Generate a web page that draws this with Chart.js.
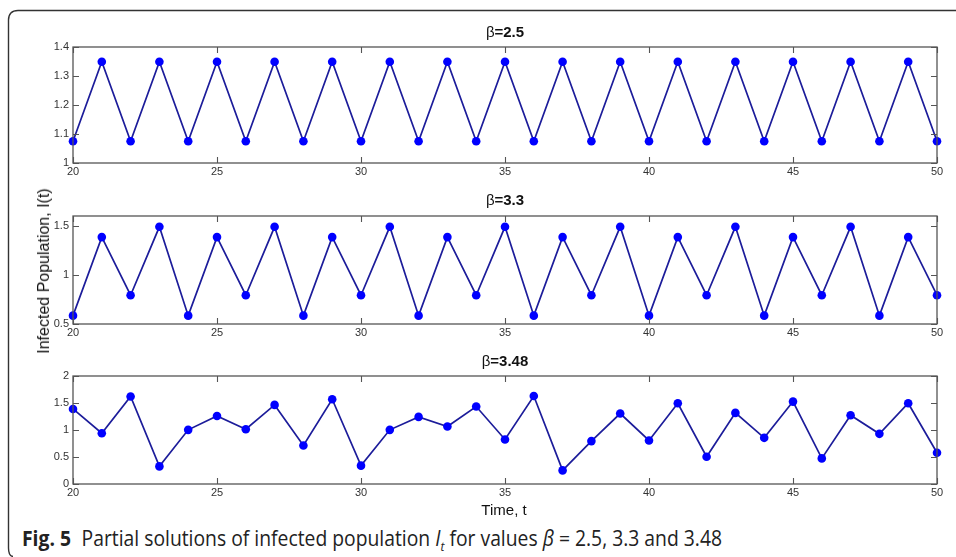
<!DOCTYPE html>
<html>
<head>
<meta charset="utf-8">
<script src="https://cdn.jsdelivr.net/npm/chart.js@4/dist/chart.umd.min.js"></script>
<style>
  html, body { margin:0; padding:0; background:#fff; }
  body { width:956px; height:557px; position:relative; overflow:hidden; font-family:Arial, "Liberation Sans", sans-serif; }
  .panel { position:absolute; left:0; width:956px; }
  canvas { display:block; }
  #ylab { position:absolute; left:44px; top:271px; transform:translate(-50%,-50%) rotate(-90deg); white-space:nowrap; font-size:16px; font-weight:normal; color:#111; }
  #xlab { position:absolute; left:504px; top:509px; transform:translate(-50%,-50%); white-space:nowrap; font-size:15px; color:#111; }
  #caption { position:absolute; left:22px; top:524px; white-space:nowrap; font-family:"Open Sans",sans-serif; font-size:21px; color:#222; transform-origin:0 0; transform:scaleX(0.92); }
  #caption b { font-weight:bold; margin-right:6px; }
  #frame { position:absolute; left:0; top:0; }
</style>
</head>
<body>
<svg id="frame" width="956" height="557"><path d="M956 10.5 H18 Q8.5 10.5 8.5 20 V548 Q8.5 556 13 556.5" fill="none" stroke="#333" stroke-width="1.4"/></svg>
<div class="panel" style="top:0"><canvas id="c1" width="956" height="190"></canvas></div>
<div class="panel" style="top:185px"><canvas id="c2" width="956" height="160"></canvas></div>
<div class="panel" style="top:350px"><canvas id="c3" width="956" height="170"></canvas></div>
<div id="ylab">Infected Population, I(t)</div>
<div id="xlab">Time, t</div>
<div id="caption"><b>Fig. 5</b> Partial solutions of infected population <i>I<sub style="font-size:13px">t</sub></i> for values <i>β</i> = 2.5, 3.3 and 3.48</div>
<script>
// ---- data ----
const timeSteps = [20,21,22,23,24,25,26,27,28,29,30,31,32,33,34,35,36,37,38,39,40,41,42,43,44,45,46,47,48,49,50];
const betaLabels = ["2.5", "3.3", "3.48"];
const infectedBeta25 = [1.075,1.349,1.075,1.349,1.075,1.349,1.075,1.349,1.075,1.349,1.075,1.349,1.075,1.349,1.075,1.349,1.075,1.349,1.075,1.349,1.075,1.349,1.075,1.349,1.075,1.349,1.075,1.349,1.075,1.349,1.075];
const infectedBeta33 = [0.585,1.385,0.793,1.49,0.585,1.385,0.793,1.49,0.585,1.385,0.793,1.49,0.585,1.385,0.793,1.49,0.585,1.385,0.793,1.49,0.585,1.385,0.793,1.49,0.585,1.385,0.793,1.49,0.585,1.385,0.793];
const infectedBeta348 = [1.39,0.94,1.62,0.326,1.003,1.26,1.015,1.465,0.714,1.57,0.34,1.003,1.243,1.065,1.434,0.825,1.63,0.252,0.794,1.305,0.806,1.495,0.505,1.317,0.855,1.526,0.474,1.274,0.929,1.495,0.578];
const xTicks = [20,25,30,35,40,45,50];
const yTicks25 = [1,1.1,1.2,1.3,1.4];
const yTicks33 = [0.5,1,1.5];
const yTicks348 = [0,0.5,1,1.5,2];

const FONT_FAMILY = 'Arial, "Liberation Sans", sans-serif';

const framePlugin = {
  id: 'frameTicks',
  afterDraw(chart) {
    const ctx = chart.ctx, a = chart.chartArea;
    const xs = chart.scales.x, ys = chart.scales.y;
    ctx.save();
    ctx.strokeStyle = '#555';
    ctx.lineWidth = 1.3;
    ctx.strokeRect(a.left, a.top, a.right - a.left, a.bottom - a.top);
    ctx.lineWidth = 1.1;
    ctx.beginPath();
    xs.ticks.forEach(t => {
      const x = Math.round(xs.getPixelForValue(t.value)) + 0.5;
      ctx.moveTo(x, a.bottom); ctx.lineTo(x, a.bottom - 6);
      ctx.moveTo(x, a.top); ctx.lineTo(x, a.top + 6);
    });
    ys.ticks.forEach(t => {
      const y = Math.round(ys.getPixelForValue(t.value)) + 0.5;
      ctx.moveTo(a.left, y); ctx.lineTo(a.left + 6, y);
      ctx.moveTo(a.right, y); ctx.lineTo(a.right - 6, y);
    });
    ctx.stroke();
    const lbl = chart.options.plugins.frameTicks.label;
    const ty = chart.options.plugins.frameTicks.titleY;
    ctx.fillStyle = '#111';
    ctx.textBaseline = 'middle';
    ctx.font = '15px ' + FONT_FAMILY;
    const w1 = ctx.measureText('β').width;
    ctx.font = 'bold 15px ' + FONT_FAMILY;
    const w2 = ctx.measureText('=' + lbl).width;
    const cx = (a.left + a.right) / 2;
    const x0 = cx - (w1 + w2) / 2;
    ctx.textAlign = 'left';
    ctx.font = '15px ' + FONT_FAMILY;
    ctx.fillText('β', x0, ty);
    ctx.font = 'bold 15px ' + FONT_FAMILY;
    ctx.fillText('=' + lbl, x0 + w1, ty);
    ctx.restore();
  }
};

const fmt = v => String(Math.round(v * 100) / 100);

function makeChart(id, values, yMin, yMax, yTicks, label, padTop, xAxisH, titleY) {
  new Chart(document.getElementById(id), {
    type: 'line',
    data: {
      datasets: [{
        data: timeSteps.map((t, i) => ({x: t, y: values[i]})),
        borderColor: '#1c1c9a',
        borderWidth: 1.7,
        pointBackgroundColor: '#0000ff',
        pointBorderColor: '#0000ff',
        pointRadius: 4.3,
        pointBorderWidth: 0,
        tension: 0,
        clip: false
      }]
    },
    options: {
      responsive: false,
      animation: false,
      devicePixelRatio: 1,
      layout: { padding: { top: padTop, right: 19, left: 0, bottom: 0 } },
      plugins: { legend: { display: false }, tooltip: { enabled: false }, title: { display: false },
        frameTicks: { label: label, titleY: titleY } },
      scales: {
        x: {
          type: 'linear', min: 20, max: 50,
          afterBuildTicks: s => { s.ticks = xTicks.map(v => ({value: v})); },
          grid: { display: false, drawTicks: false },
          border: { display: false },
          ticks: { padding: 2, color: '#333', font: { size: 11, family: FONT_FAMILY }, maxRotation: 0, autoSkip: false, callback: v => fmt(v) },
          afterFit: s => { s.height = xAxisH; }
        },
        y: {
          min: yMin, max: yMax,
          afterBuildTicks: s => { s.ticks = yTicks.map(v => ({value: v})); },
          grid: { display: false, drawTicks: false },
          border: { display: false },
          ticks: { padding: 4, color: '#333', font: { size: 11, family: FONT_FAMILY }, autoSkip: false, callback: v => fmt(v) },
          afterFit: s => { s.width = 73; }
        }
      }
    },
    plugins: [framePlugin]
  });
}

makeChart('c1', infectedBeta25, 1, 1.4, yTicks25, betaLabels[0], 47, 27, 33);
makeChart('c2', infectedBeta33, 0.5, 1.6, yTicks33, betaLabels[1], 31, 21, 16);
makeChart('c3', infectedBeta348, 0, 2, yTicks348, betaLabels[2], 26, 36, 12);
</script>
</body>
</html>
